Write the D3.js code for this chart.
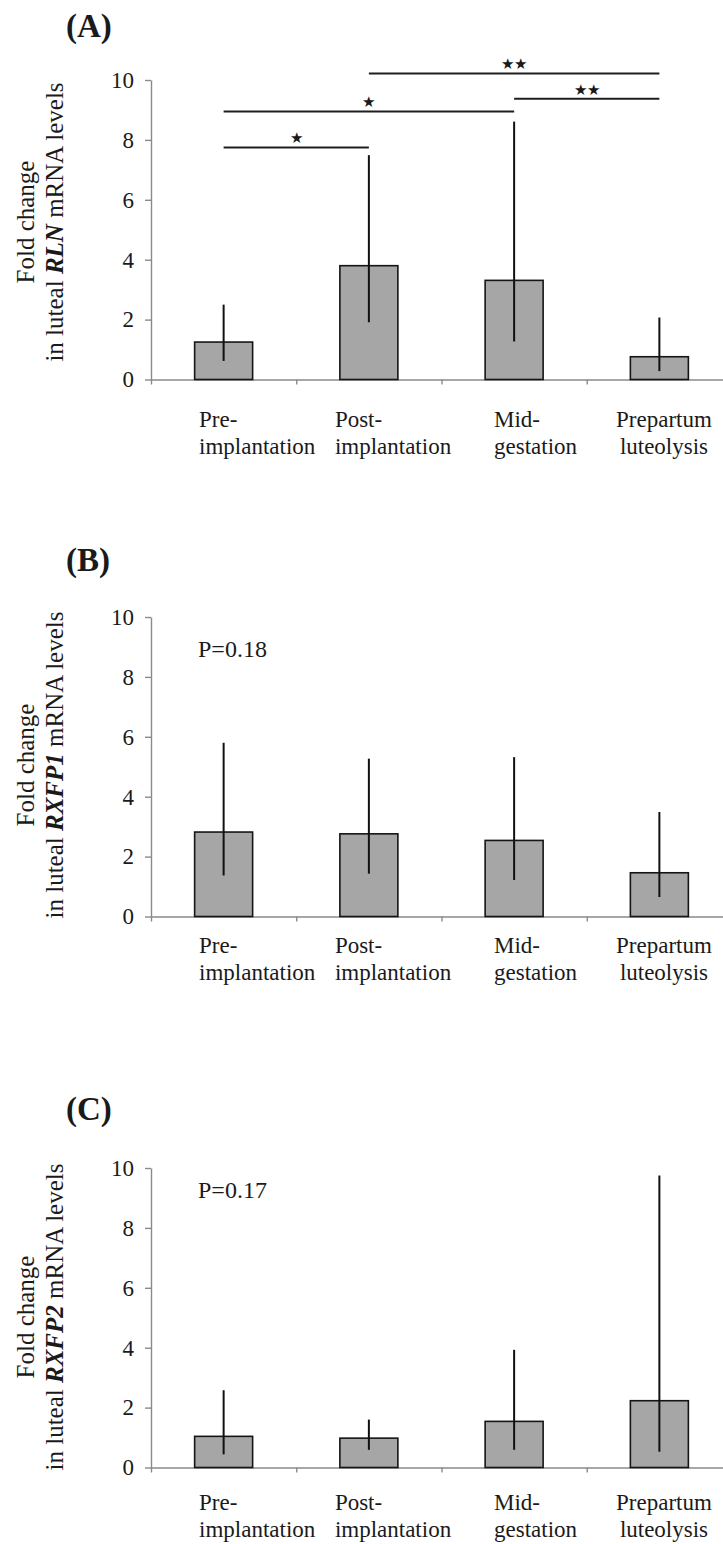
<!DOCTYPE html>
<html>
<head>
<meta charset="utf-8">
<script src="https://cdn.jsdelivr.net/npm/d3@7"></script>
<style>
  body { margin: 0; background: #fff; }
  svg { display: block; }
  text { font-family: 'Liberation Serif', 'Times New Roman', serif; fill: #1a1a1a; }
</style>
</head>
<body>
<svg id="chart"></svg>
<script>
const width = 723;
const height = 1544;

// data
const categories = ['Pre-implantation', 'Post-implantation', 'Mid-gestation', 'Prepartum luteolysis'];
const categoryLines = [['Pre-', 'implantation'], ['Post-', 'implantation'], ['Mid-', 'gestation'], ['Prepartum', 'luteolysis']];
const yTicks = [0, 2, 4, 6, 8, 10];

const rlnMean = [1.25, 3.80, 3.31, 0.76];
const rlnLow = [0.62, 1.91, 1.27, 0.28];
const rlnHigh = [2.50, 7.49, 8.61, 2.07];

const rxfp1Mean = [2.82, 2.76, 2.54, 1.46];
const rxfp1Low = [1.37, 1.43, 1.22, 0.65];
const rxfp1High = [5.80, 5.27, 5.32, 3.49];

const rxfp2Mean = [1.04, 0.98, 1.54, 2.23];
const rxfp2Low = [0.44, 0.59, 0.59, 0.53];
const rxfp2High = [2.58, 1.60, 3.93, 9.75];

// significance brackets for RLN
const rlnPairs = [[0, 1], [0, 2], [2, 3], [1, 3]];
const rlnPairLevels = [7.75, 8.95, 9.37, 10.22];
const rlnPairStars = ['★', '★', '★★', '★★'];

const pValues = [null, 'P=0.18', 'P=0.17'];
const pValueLevels = [null, 8.68, 9.0];

const panelLetters = ['(A)', '(B)', '(C)'];
const genes = ['RLN', 'RXFP1', 'RXFP2'];

// layout of the three panels
const panelTop = [80, 617, 1168];      // y of tick 10
const plotHeight = 299.5;
const letterY = [37, 571, 1120];
const labelOffset = [47, 36, 42];
const titleOffset = [142, 148, 149];
const labelDx = [-24.6, -34, -20.1, 4.6];
const labelAnchor = ['start', 'start', 'start', 'middle'];

const axisLeftX = 151;
const axisRightX = 732;
const barWidth = 58;
const axisColor = '#8a8a8a';

const svg = d3.select('#chart')
    .attr('width', width)
    .attr('height', height);

svg.append('rect').attr('width', width).attr('height', height).attr('fill', '#fff');

const x = d3.scaleBand().domain(categories).range([axisLeftX, axisRightX]);
const xEdge = d3.scaleLinear().domain([0, categories.length]).range([axisLeftX, axisRightX]);
const cx = i => x(categories[i]) + x.bandwidth() / 2;

const panels = [
    {mean: rlnMean, low: rlnLow, high: rlnHigh},
    {mean: rxfp1Mean, low: rxfp1Low, high: rxfp1High},
    {mean: rxfp2Mean, low: rxfp2Low, high: rxfp2High}
];

panels.forEach((p, k) => {
    const top = panelTop[k];
    const zero = top + plotHeight;
    const y = d3.scaleLinear().domain([0, 10]).range([zero, top]);
    const g = svg.append('g');

    // panel letter
    g.append('text')
        .attr('x', 66)
        .attr('y', letterY[k])
        .attr('font-size', 33)
        .attr('font-weight', 'bold')
        .text(panelLetters[k]);

    // axes
    const yAxis = g.append('g')
        .attr('transform', `translate(${axisLeftX},0)`)
        .call(d3.axisLeft(y).tickValues(yTicks).tickSize(6).tickSizeOuter(0).tickPadding(11));
    yAxis.selectAll('path, line').attr('stroke', axisColor).attr('stroke-width', 1.4);
    yAxis.selectAll('text')
        .attr('font-size', 23)
        .attr('font-family', "'Liberation Serif', 'Times New Roman', serif")
        .attr('fill', '#1a1a1a');

    const xAxis = g.append('g')
        .attr('transform', `translate(0,${zero})`)
        .call(d3.axisBottom(xEdge).tickValues(d3.range(categories.length + 1)).tickSize(5).tickSizeOuter(0).tickFormat(''));
    xAxis.selectAll('path, line').attr('stroke', axisColor).attr('stroke-width', 1.4);

    // y title
    const title = g.append('text')
        .attr('transform', `translate(0,${top + titleOffset[k]}) rotate(-90)`)
        .attr('text-anchor', 'middle')
        .attr('font-size', 25);
    title.append('tspan').attr('x', 0).attr('y', 34).text('Fold change');
    const line2 = title.append('tspan').attr('x', 0).attr('y', 63);
    line2.append('tspan').text('in luteal ');
    line2.append('tspan').attr('font-weight', 'bold').attr('font-style', 'italic').text(genes[k]);
    line2.append('tspan').text(' mRNA levels');

    // bars
    g.selectAll('rect.bar')
        .data(p.mean)
        .enter().append('rect')
        .attr('class', 'bar')
        .attr('x', (d, i) => cx(i) - barWidth / 2)
        .attr('width', barWidth)
        .attr('y', d => y(d))
        .attr('height', d => y(0) - y(d))
        .attr('fill', '#a6a6a6')
        .attr('stroke', '#151515')
        .attr('stroke-width', 1.6);

    // error bars
    g.selectAll('line.err')
        .data(p.mean)
        .enter().append('line')
        .attr('class', 'err')
        .attr('x1', (d, i) => cx(i))
        .attr('x2', (d, i) => cx(i))
        .attr('y1', (d, i) => y(p.low[i]))
        .attr('y2', (d, i) => y(p.high[i]))
        .attr('stroke', '#111')
        .attr('stroke-width', 2);

    // category labels
    categoryLines.forEach((lines, i) => {
        const t = g.append('text')
            .attr('text-anchor', labelAnchor[i])
            .attr('font-size', 23);
        lines.forEach((ln, j) => {
            t.append('tspan')
                .attr('x', cx(i) + labelDx[i])
                .attr('y', zero + labelOffset[k] + j * 27)
                .text(ln);
        });
    });

    // p value
    if (pValues[k]) {
        g.append('text')
            .attr('x', 198)
            .attr('y', y(pValueLevels[k]))
            .attr('font-size', 24)
            .text(pValues[k]);
    }

    // significance brackets (RLN only)
    if (k === 0) {
        rlnPairs.forEach((pair, i) => {
            const yy = y(rlnPairLevels[i]);
            g.append('line')
                .attr('x1', cx(pair[0]))
                .attr('x2', cx(pair[1]))
                .attr('y1', yy)
                .attr('y2', yy)
                .attr('stroke', '#1e1e1e')
                .attr('stroke-width', 2);
            g.append('text')
                .attr('x', (cx(pair[0]) + cx(pair[1])) / 2)
                .attr('y', yy - 4)
                .attr('text-anchor', 'middle')
                .attr('font-family', "'DejaVu Sans', sans-serif")
                .attr('font-size', 14.5)
                .text(rlnPairStars[i]);
        });
    }
});
</script>
</body>
</html>
